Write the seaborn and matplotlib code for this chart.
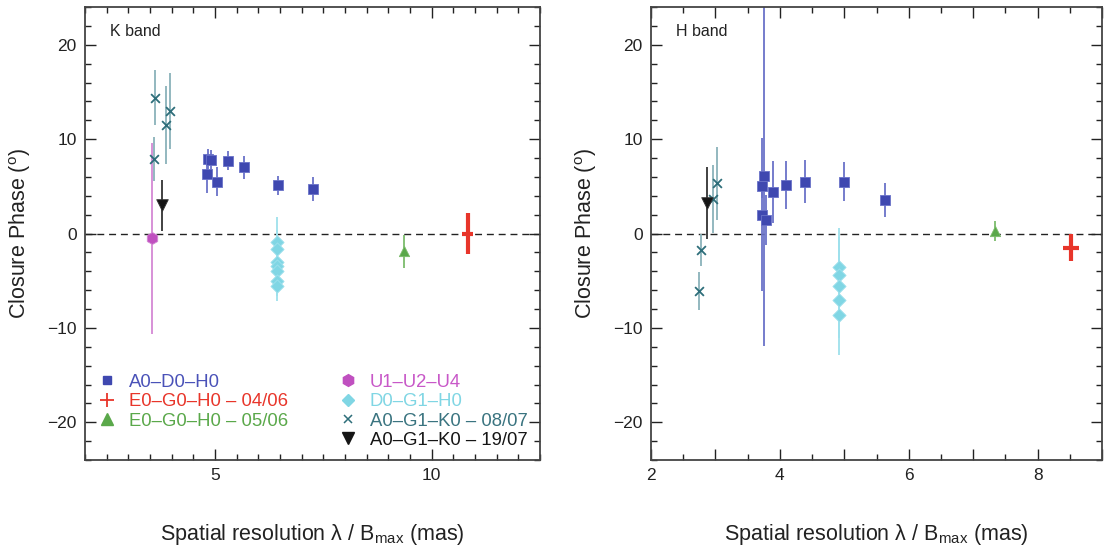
import numpy as np
import pandas as pd
import matplotlib
matplotlib.use('Agg')
import matplotlib.pyplot as plt
import seaborn as sns
from matplotlib.lines import Line2D
from matplotlib.ticker import MultipleLocator, FuncFormatter

# ---- K band data (x = lambda/Bmax in mas, y = closure phase in deg, e = error)
k_adh_x = [4.82, 4.83, 4.90, 5.05, 5.29, 5.66, 6.46, 7.27]
k_adh_y = [6.3, 7.9, 7.8, 5.5, 7.7, 7.0, 5.1, 4.7]
k_adh_e = [2.0, 1.1, 1.1, 1.5, 1.0, 1.2, 1.0, 1.3]

k_egh1_x = [10.83]
k_egh1_y = [0.0]
k_egh1_e = [2.2]

k_egh2_x = [9.35]
k_egh2_y = [-1.9]
k_egh2_e = [1.75]

k_uuu_x = [3.55]
k_uuu_y = [-0.5]
k_uuu_e = [10.1]

k_dgh_x = [6.43, 6.43, 6.43, 6.43, 6.43, 6.43, 6.43]
k_dgh_y = [-0.9, -1.6, -3.0, -3.4, -4.0, -5.0, -5.6]
k_dgh_e = [2.6, 2.0, 2.0, 2.0, 2.0, 1.6, 1.6]

k_agk1_x = [3.62, 3.59, 3.86, 3.95]
k_agk1_y = [14.4, 7.9, 11.5, 13.0]
k_agk1_e = [2.9, 2.3, 4.1, 4.0]

k_agk2_x = [3.78]
k_agk2_y = [3.0]
k_agk2_e = [2.7]

# ---- H band data
h_adh_x = [3.73, 3.75, 3.73, 3.79, 3.90, 4.10, 4.39, 4.99, 5.63]
h_adh_y = [5.0, 6.1, 2.0, 1.4, 4.4, 5.1, 5.5, 5.5, 3.5]
h_adh_e = [1.2, 18.0, 8.1, 2.65, 3.3, 2.55, 2.3, 2.1, 1.8]

h_egh1_x = [8.52]
h_egh1_y = [-1.5]
h_egh1_e = [1.4]

h_egh2_x = [7.34]
h_egh2_y = [0.3]
h_egh2_e = [1.05]

h_dgh_x = [4.92, 4.92, 4.92, 4.92, 4.92]
h_dgh_y = [-3.6, -4.4, -5.6, -7.05, -8.6]
h_dgh_e = [4.2, 4.0, 4.0, 4.0, 4.3]

h_agk1_x = [2.78, 2.75, 2.96, 3.03]
h_agk1_y = [-1.7, -6.1, 3.7, 5.3]
h_agk1_e = [1.7, 2.0, 3.6, 3.9]

h_agk2_x = [2.87]
h_agk2_y = [3.25]
h_agk2_e = [3.8]

labels = ['A0\u2013D0\u2013H0', 'E0\u2013G0\u2013H0 \u2013 04/06', 'E0\u2013G0\u2013H0 \u2013 05/06',
          'U1\u2013U2\u2013U4', 'D0\u2013G1\u2013H0', 'A0\u2013G1\u2013K0 \u2013 08/07',
          'A0\u2013G1\u2013K0 \u2013 19/07']

# style per configuration: colour, error colour, marker, size, text colour
styles = {
    'adh':  dict(c='#3f48b0', ec='#6a72c8', m='s', s=45, tc='#4a52b8'),
    'egh1': dict(c='#e8352a', ec='#e8352a', m='P', s=0, tc='#e8352a'),
    'egh2': dict(c='#5aa84a', ec='#7cbc6c', m='^', s=55, tc='#5aa84a'),
    'uuu':  dict(c='#c050c0', ec='#d488d4', m='h', s=75, tc='#c858c8'),
    'dgh':  dict(c='#80d6e4', ec='#9ee0ec', m='D', s=45, tc='#80d6e4'),
    'agk1': dict(c='#2e6e7a', ec='#8ab2ba', m='x', s=40, tc='#3a7480'),
    'agk2': dict(c='#151515', ec='#333333', m='v', s=70, tc='#151515'),
}

sns.set_theme(style='ticks')
plt.rcParams['font.family'] = ['Liberation Sans', 'DejaVu Sans']
plt.rcParams['mathtext.fontset'] = 'custom'
plt.rcParams['mathtext.rm'] = 'Liberation Sans'
plt.rcParams['mathtext.it'] = 'Liberation Sans:italic'

fig = plt.figure(figsize=(11.06, 5.46), dpi=100)
ax1 = fig.add_axes([85 / 1106, 86 / 546, 455 / 1106, 453 / 546])
ax2 = fig.add_axes([651 / 1106, 86 / 546, 451 / 1106, 453 / 546])


def draw(ax, key, x, y, e):
    st = styles[key]
    df = pd.DataFrame({'x': x, 'y': y, 'e': e})
    if key == 'egh1':
        # thick red cross-shaped error bar
        ax.errorbar(df['x'], df['y'], yerr=df['e'], xerr=0.13, fmt='none',
                    ecolor=st['c'], elinewidth=3, capsize=0, zorder=3)
        return
    ax.errorbar(df['x'], df['y'], yerr=df['e'], fmt='none', ecolor=st['ec'],
                elinewidth=1.3, capsize=0, zorder=2)
    if st['m'] == 'x':
        sns.scatterplot(data=df, x='x', y='y', marker='x', s=st['s'], color=st['c'],
                        linewidth=1.3, ax=ax, zorder=3, legend=False)
    else:
        sns.scatterplot(data=df, x='x', y='y', marker=st['m'], s=st['s'], color=st['c'],
                        edgecolor=st['ec'], linewidth=0.6, ax=ax, zorder=3, legend=False)


draw(ax1, 'uuu', k_uuu_x, k_uuu_y, k_uuu_e)
draw(ax1, 'agk1', k_agk1_x, k_agk1_y, k_agk1_e)
draw(ax1, 'agk2', k_agk2_x, k_agk2_y, k_agk2_e)
draw(ax1, 'adh', k_adh_x, k_adh_y, k_adh_e)
draw(ax1, 'dgh', k_dgh_x, k_dgh_y, k_dgh_e)
draw(ax1, 'egh2', k_egh2_x, k_egh2_y, k_egh2_e)
draw(ax1, 'egh1', k_egh1_x, k_egh1_y, k_egh1_e)

draw(ax2, 'agk1', h_agk1_x, h_agk1_y, h_agk1_e)
draw(ax2, 'agk2', h_agk2_x, h_agk2_y, h_agk2_e)
draw(ax2, 'adh', h_adh_x, h_adh_y, h_adh_e)
draw(ax2, 'dgh', h_dgh_x, h_dgh_y, h_dgh_e)
draw(ax2, 'egh2', h_egh2_x, h_egh2_y, h_egh2_e)
draw(ax2, 'egh1', h_egh1_x, h_egh1_y, h_egh1_e)

for ax, band in [(ax1, 'K band'), (ax2, 'H band')]:
    ax.axhline(0, color='#222222', lw=1.0, ls=(0, (5, 3.5)), zorder=1)
    ax.set_ylim(-24, 24)
    ax.yaxis.set_major_locator(MultipleLocator(10))
    ax.yaxis.set_minor_locator(MultipleLocator(2))
    ax.tick_params(which='both', direction='in', top=True, right=True,
                   labelsize=12.5, colors='#222222', width=1.0)
    ax.tick_params(which='major', length=8, pad=6)
    ax.tick_params(which='minor', length=4.5)
    for sp in ax.spines.values():
        sp.set_linewidth(1.3)
        sp.set_color('#444444')
    ax.set_xlabel('Spatial resolution \u03bb / B$_{\\rm max}$ (mas)', fontsize=15.5,
                  labelpad=28, color='#222222')
    ax.set_ylabel(r'Closure Phase ($^{\rm o}$)', fontsize=15.5, labelpad=10, color='#222222')
    ax.text(0.055, 0.945, band, transform=ax.transAxes, fontsize=11.5,
            ha='left', va='center', color='#222222')

ax1.set_xlim(2, 12.5)
ax1.xaxis.set_major_locator(MultipleLocator(5))
ax1.xaxis.set_minor_locator(MultipleLocator(0.5))

ax2.set_xlim(2, 9)
ax2.xaxis.set_major_locator(MultipleLocator(1))
ax2.xaxis.set_minor_locator(MultipleLocator(0.5))
ax2.xaxis.set_major_formatter(FuncFormatter(lambda v, p: f'{int(v)}' if int(round(v)) % 2 == 0 else ''))

for ax in (ax1, ax2):
    ax.yaxis.set_major_formatter(FuncFormatter(lambda v, p: f'{int(v)}'.replace('-', '\u2212')))

# legend (two columns, blank slot at the bottom of the first one)
keys = ['adh', 'egh1', 'egh2', None, 'uuu', 'dgh', 'agk1', 'agk2']
leg_labels = labels[:3] + [''] + labels[3:]
handles = []
for k in keys:
    if k is None:
        handles.append(Line2D([], [], ls='none'))
        continue
    st = styles[k]
    if k == 'egh1':
        handles.append(Line2D([], [], ls='none', marker='+', ms=10, mew=1.3, color=st['c']))
    elif k == 'agk1':
        handles.append(Line2D([], [], ls='none', marker='x', ms=6, mew=1.1, color=st['c']))
    else:
        ms = {'adh': 6, 'egh2': 8, 'uuu': 8.5, 'dgh': 6.5, 'agk2': 8}[k]
        handles.append(Line2D([], [], ls='none', marker=st['m'], ms=ms, color=st['c'], mec=st['c']))
leg = ax1.legend(handles, leg_labels, ncol=2, loc='lower left', bbox_to_anchor=(0.0, 0.0),
                 frameon=False, fontsize=13.3, handlelength=1.2, handletextpad=0.6,
                 columnspacing=2.6, labelspacing=0.13, borderaxespad=0.3,
                 borderpad=0.3)
for txt, k in zip(leg.get_texts(), keys):
    if k is not None:
        txt.set_color(styles[k]['tc'])

fig.savefig('out.png', dpi=100)
